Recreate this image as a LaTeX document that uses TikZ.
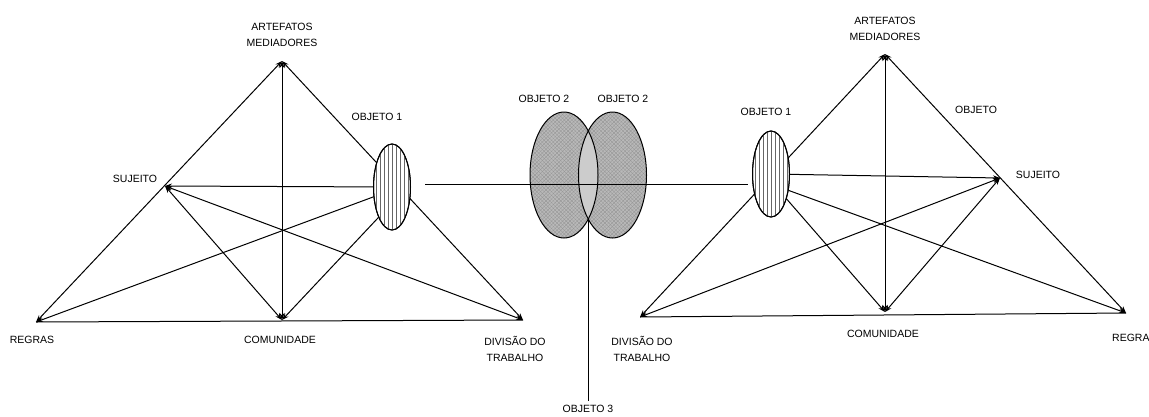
\documentclass[tikz,border=0pt]{standalone}
\usepackage{fontspec}
\setmainfont{Liberation Sans}
\usetikzlibrary{arrows.meta,shapes.geometric,patterns,patterns.meta}
\begin{document}
\begin{tikzpicture}[x=1pt,y=-1pt,
  ln/.style={line width=1pt,black},
  tip/.style={ln,-{Stealth[length=7pt,width=5pt]}},
  both/.style={ln,{Stealth[length=7pt,width=5pt]}-{Stealth[length=7pt,width=5pt]}},
  lbl/.style={font=\fontsize{10.5}{16}\selectfont,inner sep=0pt,align=center},
  objone/.style={ellipse,draw,line width=1pt,fill=white,
    minimum width=37pt,minimum height=86pt,inner sep=0pt},
  hatch/.style={line width=0.55pt,gray!80!black},
  objtwo/.style={ellipse,fill=gray!55,
    postaction={pattern={Lines[angle=45,distance=2.6pt,line width=0.3pt]},pattern color=gray!85},
    postaction={pattern={Lines[angle=-45,distance=2.6pt,line width=0.3pt]},pattern color=gray!85},
    minimum width=68pt,minimum height=126pt,inner sep=0pt}
]
\useasboundingbox (0,0) rectangle (1149,416);

% ---------- left activity system ----------
\coordinate (A1) at (282,61);
\coordinate (S1) at (165,186);
\coordinate (R1) at (36,322);
\coordinate (C1) at (282,320);
\coordinate (D1) at (523,320);

\draw[both] (A1) -- (D1);
\node[objone] (O1) at (392,187) {};
\begin{scope}
  \clip (O1.center) ellipse [x radius=18.5, y radius=43];
  \foreach \dx in {-16,-12,...,16}
    \draw[hatch] ([xshift=\dx pt]O1.north) -- ([xshift=\dx pt]O1.south);
\end{scope}
\draw[ln] (O1.center) ellipse [x radius=18.5, y radius=43];
\draw[both] (A1) -- (C1);
\draw[both] (A1) -- (R1);
\draw[ln] (R1) -- (D1);
\draw[both] (S1) -- (C1);
\draw[both] (S1) -- (D1);
\draw[tip] (O1) -- (S1);
\draw[tip] (O1.208) -- (R1);
\draw[tip] (O1.246) -- (C1);

\node[lbl] (artL) at (282,35) {ARTEFATOS\\MEDIADORES};
\node[lbl] (objL) at (377,117) {OBJETO 1};
\node[lbl] (sujL) at (135,179) {SUJEITO};
\node[lbl] (regL) at (32,340) {REGRAS};
\node[lbl] (comL) at (280,340) {COMUNIDADE};
\node[lbl] (divL) at (515,349) {DIVISÃO DO\\TRABALHO};

% ---------- central shared object ----------
\node[objtwo] (E1) at (564,175) {};
\node[objtwo] (E2) at (612.5,175) {};
\begin{scope}
  \path[clip] (E1.center) ellipse [x radius=34, y radius=63];
  \fill[gray!40] (E2.center) ellipse [x radius=34, y radius=63];
\end{scope}
\draw[line width=1pt] (E1.center) ellipse [x radius=34, y radius=63];
\draw[line width=1pt] (E2.center) ellipse [x radius=34, y radius=63];

\coordinate (hL) at (425,184);
\coordinate (hR) at (748,184);
\draw[ln] (hL) -- (hR);
\coordinate (lensB) at (588,219);
\coordinate (obj3pt) at (588,401);
\draw[ln] (lensB) -- (obj3pt);

\node[lbl] (o2a) at (544,99) {OBJETO 2};
\node[lbl] (o2b) at (623,99) {OBJETO 2};
\node[lbl] (o3) at (588,409) {OBJETO 3};

% ---------- right activity system ----------
\coordinate (A2) at (885,54);
\coordinate (S2) at (1000,178);
\coordinate (R2) at (1126,313);
\coordinate (C2) at (885,312);
\coordinate (D2) at (640,317);

\draw[both] (A2) -- (D2);
\node[objone] (O2) at (771,174) {};
\begin{scope}
  \clip (O2.center) ellipse [x radius=18.5, y radius=43];
  \foreach \dx in {-16,-12,...,16}
    \draw[hatch] ([xshift=\dx pt]O2.north) -- ([xshift=\dx pt]O2.south);
\end{scope}
\draw[ln] (O2.center) ellipse [x radius=18.5, y radius=43];
\draw[both] (A2) -- (C2);
\draw[both] (A2) -- (R2);
\draw[ln] (D2) -- (R2);
\draw[both] (C2) -- (S2);
\draw[both] (D2) -- (S2);
\draw[tip] (O2) -- (S2);
\draw[tip] (O2.-43) -- (R2);
\draw[tip] (O2.-58) -- (C2);

\node[lbl] (artR) at (885,29) {ARTEFATOS\\MEDIADORES};
\node[lbl] (objR) at (766,112) {OBJETO 1};
\node[lbl] (objetoR) at (976,110) {OBJETO};
\node[lbl] (sujR) at (1038,175) {SUJEITO};
\node[lbl,anchor=west] (regR) at (1112,338) {REGRAS};
\node[lbl] (comR) at (883,334) {COMUNIDADE};
\node[lbl] (divR) at (642,349) {DIVISÃO DO\\TRABALHO};
\end{tikzpicture}
\end{document}
